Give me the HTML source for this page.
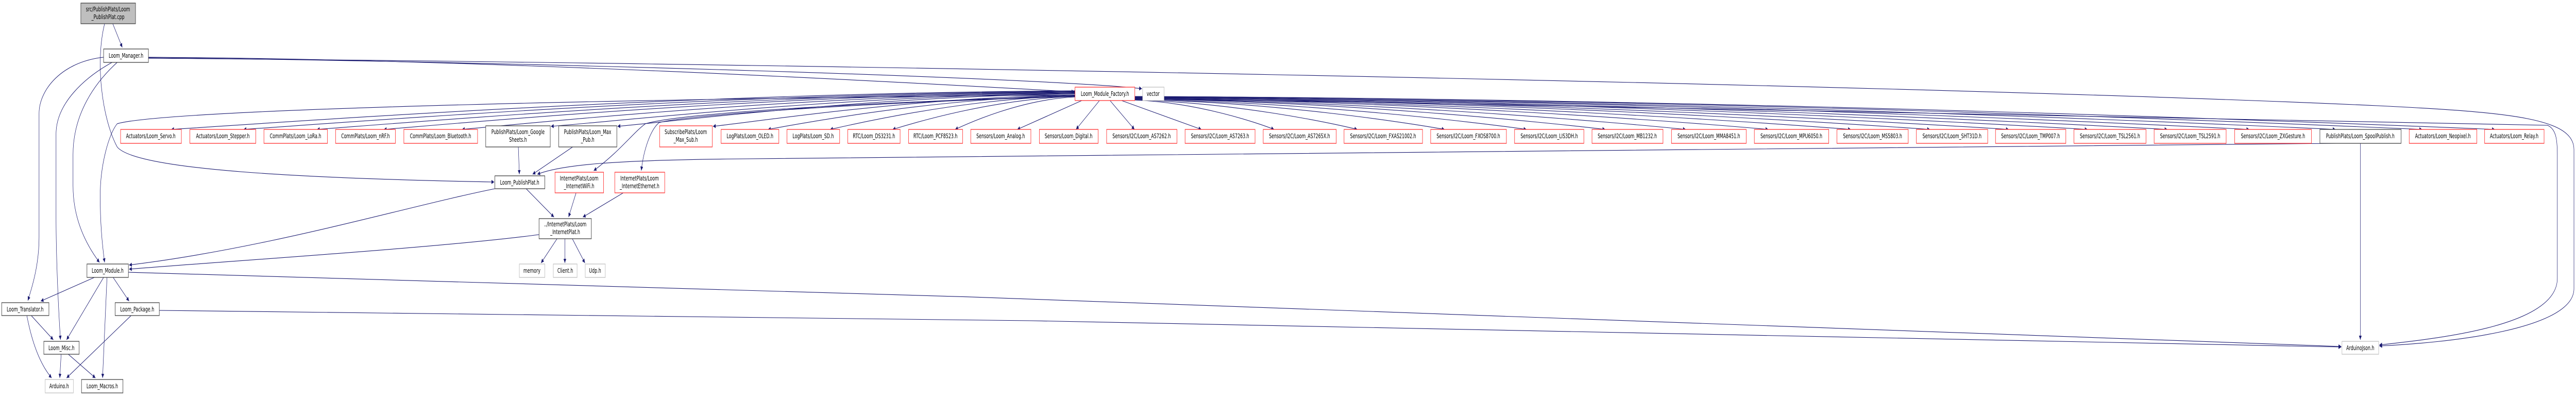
<!DOCTYPE html>
<html><head><meta charset="utf-8"><style>
html,body{margin:0;padding:0;background:#fff;width:100%;height:100%;overflow:hidden;}
svg{display:block;width:100vw;height:100vh;}
text{font-family:"DejaVu Sans","Liberation Sans",sans-serif;font-size:12px;fill:#000;text-anchor:middle;}
.e{fill:none;stroke:#191970;stroke-width:1.1;}
.r{fill:#fff;stroke:#ff3030;stroke-width:1.3;}
.b{fill:#fff;stroke:#404040;stroke-width:1.3;}
.g{fill:#fff;stroke:#bfbfbf;stroke-width:1.3;}
</style></head><body>
<svg viewBox="0 0 7584 768" preserveAspectRatio="none" xmlns="http://www.w3.org/2000/svg">
<defs><marker id="a" viewBox="0 0 10 10" refX="10" refY="5" markerWidth="10" markerHeight="8" markerUnits="userSpaceOnUse" orient="auto"><path d="M0,0 L10,5 L0,10 z" fill="#191970"/></marker></defs>
<g class="e" marker-end="url(#a)">
<path d="M332,46 L360,92"/>
<path d="M308,46 C280,120 300,230 345,285 C400,330 900,346 1455,353"/>
<path d="M437,111 C1500,115 2800,165 3163,178"/>
<path d="M437,112 C1600,120 3100,152 3362,172"/>
<path d="M437,113 C2000,120 5500,160 7000,205 C7400,218 7578,230 7578,290 L7578,560 C7578,640 7200,665 7005,671"/>
<path d="M3341,192 C5000,205 6800,225 7500,243 C7525,250 7529,270 7529,300 L7529,540 C7529,630 7200,655 7005,669"/>
<path d="M305,111 C180,120 115,175 115,220 L115,460 C115,510 98,550 82,583"/>
<path d="M330,121 C250,150 165,200 165,260 L165,420 C165,500 172,600 178,659"/>
<path d="M345,121 C280,160 215,220 215,300 L215,360 C215,430 260,480 293,509"/>
<path d="M3165,184 C2000,190 500,210 345,240 C320,260 295,320 295,380 C295,430 300,470 308,509"/>
<path d="M1457,366 C1200,400 800,480 380,514"/>
<path d="M1587,455 C1300,480 700,505 380,522"/>
<path d="M378,528 C2500,560 5500,640 6893,672"/>
<path d="M469,602 C2500,610 5500,650 6893,673"/>
<path d="M278,538 L120,584"/>
<path d="M305,538 L196,659"/>
<path d="M315,538 L302,733"/>
<path d="M333,538 L380,584"/>
<path d="M92,612 L157,659"/>
<path d="M79,612 C90,650 110,700 152,733"/>
<path d="M180,687 L176,733"/>
<path d="M201,687 L281,733"/>
<path d="M386,612 L196,733"/>
<path d="M1526,285 L1529,338"/>
<path d="M1686,285 L1568,338"/>
<path d="M1696,374 L1674,421"/>
<path d="M1835,374 L1716,421"/>
<path d="M1549,366 L1631,421"/>
<path d="M6879,278 C6800,290 5000,300 2200,308 C1800,310 1650,320 1582,338"/>
<path d="M6949,278 L6949,659"/>
<path d="M1640,463 L1593,510"/>
<path d="M1663,463 L1663,510"/>
<path d="M1685,463 L1722,510"/>
<path d="M3165,186 C2500,200 2000,220 1900,240 C1860,260 1830,290 1748,331"/>
<path d="M3165,187 C2500,200 2000,225 1940,238 C1915,252 1895,290 1888,331"/>
<path d="M3165,176 C1968,181 823,238 504,251"/>
<path d="M3165,177 C2063,182 1011,238 717,251"/>
<path d="M3165,178 C2161,183 1201,238 933,251"/>
<path d="M3165,179 C2249,184 1374,238 1130,251"/>
<path d="M3165,180 C2353,185 1577,238 1360,251"/>
<path d="M3165,181 C2470,186 1807,236 1622,245"/>
<path d="M3165,182 C2559,187 1980,236 1818,245"/>
<path d="M3165,184 C2687,189 2230,236 2099,245"/>
<path d="M3165,185 C2758,190 2369,238 2261,251"/>
<path d="M3165,186 C2841,191 2531,238 2444,251"/>
<path d="M3165,187 C2923,192 2692,238 2628,251"/>
<path d="M3165,188 C3006,193 2854,238 2812,251"/>
<path d="M3185,195 L2995,251"/>
<path d="M3237,195 L3168,251"/>
<path d="M3268,195 L3340,251"/>
<path d="M3302,195 L3537,251"/>
<path d="M3341,194 C3526,199 3702,238 3751,251"/>
<path d="M3341,194 C3636,199 3917,238 3996,251"/>
<path d="M3341,193 C3751,198 4144,238 4253,251"/>
<path d="M3341,193 C3860,198 4356,238 4494,251"/>
<path d="M3341,192 C3964,197 4560,238 4726,251"/>
<path d="M3341,192 C4071,197 4768,238 4963,251"/>
<path d="M3341,191 C4180,196 4982,238 5206,251"/>
<path d="M3341,191 C4290,196 5196,238 5449,251"/>
<path d="M3341,190 C4394,195 5401,238 5682,251"/>
<path d="M3341,190 C4499,195 5605,238 5914,251"/>
<path d="M3341,189 C4603,194 5809,238 6146,251"/>
<path d="M3341,189 C4709,194 6016,238 6381,251"/>
<path d="M3341,188 C4817,193 6228,238 6622,251"/>
<path d="M3341,188 C4932,193 6452,238 6876,251"/>
<path d="M3341,187 C5047,192 6676,238 7131,251"/>
<path d="M3341,187 C5143,192 6865,238 7345,251"/>
</g>

<rect x="238" y="6" width="161" height="40" fill="#bfbfbf" stroke="#404040" stroke-width="1.3"/>
<text x="318" y="22">src/PublishPlats/Loom</text><text x="318" y="37">_PublishPlat.cpp</text>
<rect class="b" x="305" y="95" width="132" height="26"/><text x="371" y="112">Loom_Manager.h</text>
<rect class="r" x="3165" y="169" width="176" height="26"/><text x="3253" y="186">Loom_Module_Factory.h</text>
<rect class="g" x="3364" y="169" width="63" height="26"/><text x="3395" y="186">vector</text>

<rect class="r" x="355" y="251" width="179" height="27"/><text x="444" y="268">Actuators/Loom_Servo.h</text>
<rect class="r" x="559" y="251" width="194" height="27"/><text x="656" y="268">Actuators/Loom_Stepper.h</text>
<rect class="r" x="777" y="251" width="187" height="27"/><text x="870" y="268">CommPlats/Loom_LoRa.h</text>
<rect class="r" x="988" y="251" width="176" height="27"/><text x="1076" y="268">CommPlats/Loom_nRF.h</text>
<rect class="r" x="1189" y="251" width="217" height="27"/><text x="1297" y="268">CommPlats/Loom_Bluetooth.h</text>
<rect class="b" x="1430" y="244" width="190" height="41"/><text x="1525" y="260">PublishPlats/Loom_Google</text><text x="1525" y="275">Sheets.h</text>
<rect class="b" x="1645" y="244" width="171" height="41"/><text x="1730" y="260">PublishPlats/Loom_Max</text><text x="1730" y="275">_Pub.h</text>
<rect class="r" x="1942" y="244" width="155" height="41"/><text x="2019" y="260">SubscribePlats/Loom</text><text x="2019" y="275">_Max_Sub.h</text>
<rect class="r" x="2123" y="251" width="170" height="27"/><text x="2208" y="268">LogPlats/Loom_OLED.h</text>
<rect class="r" x="2317" y="251" width="155" height="27"/><text x="2394" y="268">LogPlats/Loom_SD.h</text>
<rect class="r" x="2496" y="251" width="154" height="27"/><text x="2573" y="268">RTC/Loom_DS3231.h</text>
<rect class="r" x="2675" y="251" width="159" height="27"/><text x="2754" y="268">RTC/Loom_PCF8523.h</text>
<rect class="r" x="2858" y="251" width="177" height="27"/><text x="2946" y="268">Sensors/Loom_Analog.h</text>
<rect class="r" x="3060" y="251" width="173" height="27"/><text x="3146" y="268">Sensors/Loom_Digital.h</text>
<rect class="r" x="3258" y="251" width="207" height="27"/><text x="3361" y="268">Sensors/I2C/Loom_AS7262.h</text>
<rect class="r" x="3489" y="251" width="206" height="27"/><text x="3592" y="268">Sensors/I2C/Loom_AS7263.h</text>
<rect class="r" x="3719" y="251" width="215" height="27"/><text x="3826" y="268">Sensors/I2C/Loom_AS7265X.h</text>
<rect class="r" x="3957" y="251" width="231" height="27"/><text x="4072" y="268">Sensors/I2C/Loom_FXAS21002.h</text>
<rect class="r" x="4212" y="251" width="223" height="27"/><text x="4323" y="268">Sensors/I2C/Loom_FXOS8700.h</text>
<rect class="r" x="4459" y="251" width="204" height="27"/><text x="4561" y="268">Sensors/I2C/Loom_LIS3DH.h</text>
<rect class="r" x="4687" y="251" width="209" height="27"/><text x="4791" y="268">Sensors/I2C/Loom_MB1232.h</text>
<rect class="r" x="4921" y="251" width="220" height="27"/><text x="5031" y="268">Sensors/I2C/Loom_MMA8451.h</text>
<rect class="r" x="5165" y="251" width="219" height="27"/><text x="5274" y="268">Sensors/I2C/Loom_MPU6050.h</text>
<rect class="r" x="5408" y="251" width="210" height="27"/><text x="5513" y="268">Sensors/I2C/Loom_MS5803.h</text>
<rect class="r" x="5642" y="251" width="210" height="27"/><text x="5747" y="268">Sensors/I2C/Loom_SHT31D.h</text>
<rect class="r" x="5875" y="251" width="207" height="27"/><text x="5978" y="268">Sensors/I2C/Loom_TMP007.h</text>
<rect class="r" x="6106" y="251" width="212" height="27"/><text x="6212" y="268">Sensors/I2C/Loom_TSL2561.h</text>
<rect class="r" x="6342" y="251" width="212" height="27"/><text x="6448" y="268">Sensors/I2C/Loom_TSL2591.h</text>
<rect class="r" x="6579" y="251" width="226" height="27"/><text x="6692" y="268">Sensors/I2C/Loom_ZXGesture.h</text>
<rect class="b" x="6830" y="251" width="239" height="27"/><text x="6949" y="268">PublishPlats/Loom_SpoolPublish.h</text>
<rect class="r" x="7093" y="251" width="199" height="27"/><text x="7192" y="268">Actuators/Loom_Neopixel.h</text>
<rect class="r" x="7315" y="251" width="175" height="27"/><text x="7402" y="268">Actuators/Loom_Relay.h</text>

<rect class="b" x="1457" y="341" width="147" height="25"/><text x="1530" y="358">Loom_PublishPlat.h</text>
<rect class="r" x="1634" y="334" width="143" height="40"/><text x="1705" y="350">InternetPlats/Loom</text><text x="1705" y="365">_InternetWiFi.h</text>
<rect class="r" x="1810" y="334" width="147" height="40"/><text x="1883" y="350">InternetPlats/Loom</text><text x="1883" y="365">_InternetEthernet.h</text>
<rect class="b" x="1587" y="424" width="154" height="39"/><text x="1664" y="439">../InternetPlats/Loom</text><text x="1664" y="454">_InternetPlat.h</text>
<rect class="g" x="1529" y="512" width="75" height="26"/><text x="1566" y="529">memory</text>
<rect class="g" x="1629" y="512" width="70" height="26"/><text x="1664" y="529">Client.h</text>
<rect class="g" x="1723" y="512" width="59" height="26"/><text x="1752" y="529">Udp.h</text>

<rect class="b" x="256" y="512" width="122" height="26"/><text x="317" y="529">Loom_Module.h</text>
<rect class="b" x="5" y="587" width="139" height="25"/><text x="74" y="604">Loom_Translator.h</text>
<rect class="b" x="339" y="587" width="130" height="25"/><text x="404" y="604">Loom_Package.h</text>
<rect class="b" x="129" y="662" width="104" height="25"/><text x="181" y="679">Loom_Misc.h</text>
<rect class="g" x="133" y="736" width="83" height="26"/><text x="174" y="753">Arduino.h</text>
<rect class="b" x="240" y="736" width="122" height="26"/><text x="301" y="753">Loom_Macros.h</text>
<rect class="g" x="6895" y="662" width="108" height="25"/><text x="6949" y="679">ArduinoJson.h</text>
</svg>
</body></html>
